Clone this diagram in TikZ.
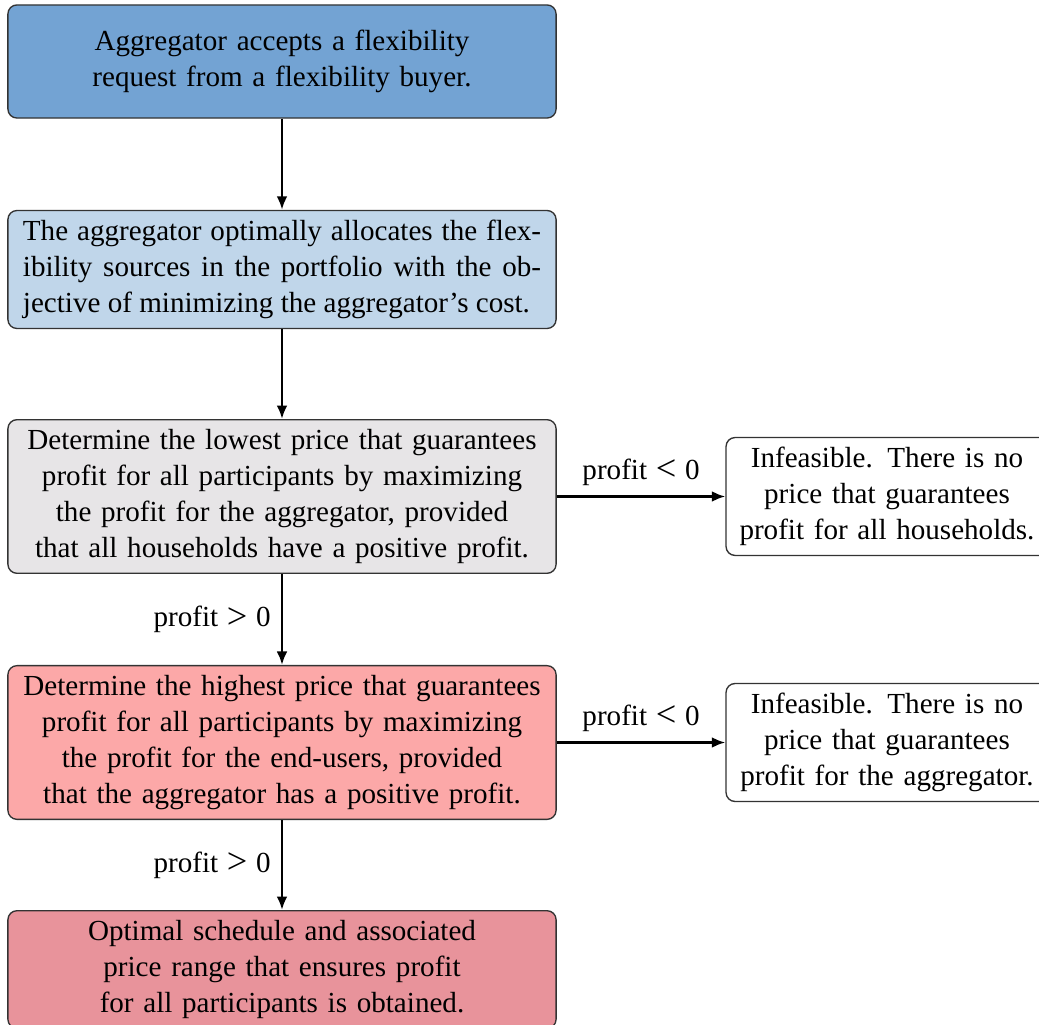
\documentclass[tikz,border=0pt]{standalone}
\usepackage{fontspec}
\setmainfont{Liberation Serif}
\usetikzlibrary{arrows.meta}
\definecolor{fillAccept}{RGB}{115,163,211}
\definecolor{fillAlloc}{RGB}{192,214,234}
\definecolor{fillLow}{RGB}{231,229,231}
\definecolor{fillHigh}{RGB}{252,168,168}
\definecolor{fillDone}{RGB}{232,147,155}
% relation signs a little larger than the text glyphs
\newcommand{\relsign}[1]{\hspace{0.3em}\raisebox{-0.6pt}{\scalebox{1.25}{#1}}\hspace{0.3em}}
\begin{document}
\begin{tikzpicture}[x=0.3333pt,y=-0.3333pt,
  box/.style={draw=black!80, line width=0.45pt, rounded corners=3pt,
    inner xsep=1pt, inner ysep=3.2pt, text width=180.7pt, align=center,
    minimum height=37.7pt, font=\fontsize{9.7}{12}\selectfont},
  side/.style={box, fill=white, text width=105.3pt},
  flow/.style={-{Latex[length=4.5pt,width=3.6pt]}, line width=0.85pt},
  lbl/.style={font=\fontsize{9.7}{12}\selectfont}]
\useasboundingbox (0,0) rectangle (1039,1025);

% main column
\node[box, fill=fillAccept] (accept) at (282,61.5)
  {Aggregator accepts a flexibility\\request from a flexibility buyer.};
\node[box, fill=fillAlloc, align=justify, inner xsep=5pt, text width=172.7pt] (alloc) at (282,269.5)
  {The aggregator optimally allocates the flex-\linebreak
   ibility sources in the portfolio with the ob-\linebreak
   jective of minimizing the aggregator's cost.};
\node[box, fill=fillLow] (lowest) at (282,496.5)
  {Determine the lowest price that guarantees\\
   profit for all participants by maximizing\\
   the profit for the aggregator, provided\\
   that all households have a positive profit.};
\node[box, fill=fillHigh] (highest) at (282,742.5)
  {Determine the highest price that guarantees\\
   profit for all participants by maximizing\\
   the profit for the end-users, provided\\
   that the aggregator has a positive profit.};
\node[box, fill=fillDone] (done) at (282,969.5)
  {Optimal schedule and associated\\
   price range that ensures profit\\
   for all participants is obtained.};

% infeasible outcomes
\node[side] (noHouse) at (887,496.5)
  {Infeasible. There is no\\price that guarantees\\profit for all households.};
\node[side] (noAggr) at (887,742.5)
  {Infeasible. There is no\\price that guarantees\\profit for the aggregator.};

% connectors
\draw[flow] (accept) -- (alloc);
\draw[flow] (alloc) -- (lowest);
\draw[flow] (lowest) -- node[left, lbl] {profit\relsign{>}0} (highest);
\draw[flow] (highest) -- node[left, lbl] {profit\relsign{>}0} (done);
\draw[flow] (lowest) -- node[above, lbl] {profit\relsign{<}0} (noHouse);
\draw[flow] (highest) -- node[above, lbl] {profit\relsign{<}0} (noAggr);
\end{tikzpicture}
\end{document}
